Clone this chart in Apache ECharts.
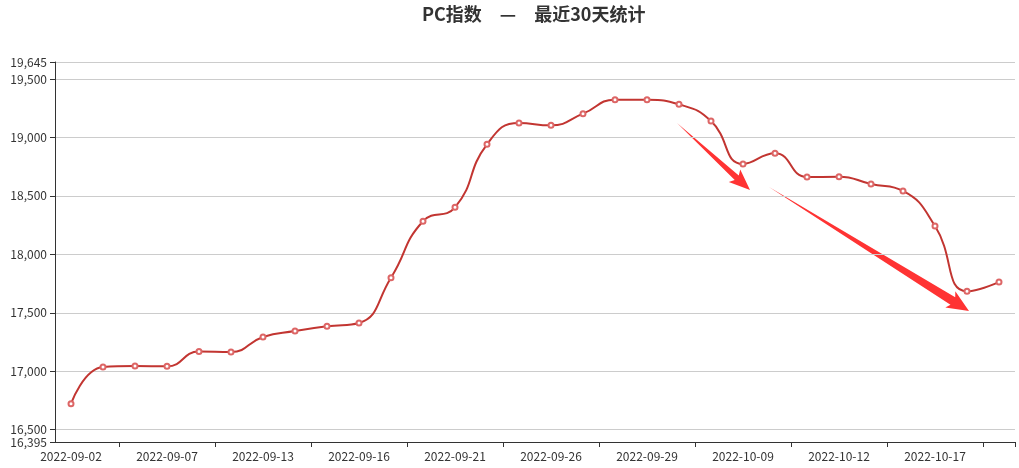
<!DOCTYPE html>
<html>
<head>
<meta charset="utf-8">
<script src="https://cdn.jsdelivr.net/npm/echarts@6/dist/echarts.min.js"></script>
<style>html,body{margin:0;padding:0;background:#fff;}#c{width:1019px;height:468px;}</style>
</head>
<body>
<div id="c"></div>
<script>
var titleText = 'PC指数\u3000—\u3000最近30天统计';
var dates = ['2022-09-02','2022-09-05','2022-09-06','2022-09-07','2022-09-08','2022-09-09',
  '2022-09-13','2022-09-14','2022-09-15','2022-09-16','2022-09-19','2022-09-20',
  '2022-09-21','2022-09-22','2022-09-23','2022-09-26','2022-09-27','2022-09-28',
  '2022-09-29','2022-09-30','2022-10-08','2022-10-09','2022-10-10','2022-10-11',
  '2022-10-12','2022-10-13','2022-10-14','2022-10-17','2022-10-18','2022-10-19'];
var pcIndex = [16723,17036,17045,17042,17168,17165,17293,17344,17384,17413,17800,18283,
  18402,18941,19123,19103,19203,19323,19322,19283,19140,18773,18864,18661,18664,18602,
  18542,18242,17684,17763];
var yMin = 16395;
var yMax = 19645;

function arrow(tail, tip, headLen, headHalf, shaftHalf) {
  var dx = tip[0] - tail[0], dy = tip[1] - tail[1];
  var L = Math.sqrt(dx * dx + dy * dy);
  var ux = dx / L, uy = dy / L, nx = -uy, ny = ux;
  var bx = tip[0] - ux * headLen, by = tip[1] - uy * headLen;
  return [
    [tail[0], tail[1]],
    [bx + nx * shaftHalf, by + ny * shaftHalf],
    [bx + nx * headHalf - ux * 3, by + ny * headHalf - uy * 3],
    [tip[0], tip[1]],
    [bx - nx * headHalf - ux * 3, by - ny * headHalf - uy * 3],
    [bx - nx * shaftHalf, by - ny * shaftHalf]
  ];
}

var chart = echarts.init(document.getElementById('c'));
var font = '"Microsoft YaHei","Noto Sans CJK SC","Noto Sans",sans-serif';
chart.setOption({
  animation: false,
  textStyle: {fontFamily: font},
  title: {
    text: titleText,
    left: 417,
    top: 0,
    textStyle: {fontSize: 18, fontWeight: 'bold', color: '#333', fontFamily: font}
  },
  grid: {left: 55, right: 4, top: 62, bottom: 26, containLabel: false},
  xAxis: {
    type: 'category',
    data: dates,
    boundaryGap: true,
    axisLine: {show: true, lineStyle: {color: '#333'}},
    axisTick: {show: true, alignWithLabel: false, interval: function (i) { return i % 3 === 2; }, length: 5, lineStyle: {color: '#333', width: 1}},
    axisLabel: {interval: 2, color: '#333', fontSize: 12, fontFamily: font}
  },
  yAxis: {
    type: 'value',
    min: yMin,
    max: yMax,
    axisLine: {show: true, lineStyle: {color: '#333'}},
    axisTick: {show: true, length: 5, lineStyle: {color: '#333'}},
    axisLabel: {color: '#333', fontSize: 12, fontFamily: font},
    splitLine: {lineStyle: {color: '#ccc'}}
  },
  series: [{
    type: 'line',
    data: pcIndex,
    smooth: true,
    symbol: 'emptyCircle',
    symbolSize: 5,
    lineStyle: {color: '#c23531', width: 2},
    itemStyle: {color: '#dd6666', borderWidth: 1}
  }],
  graphic: [
    {type: 'polygon', shape: {points: arrow([677, 123], [750, 190], 18, 8.5, 3)}, style: {fill: '#ff3333'}},
    {type: 'polygon', shape: {points: arrow([769, 187], [969, 311], 19, 9.5, 4.5)}, style: {fill: '#ff3333'}}
  ]
});
</script>
</body>
</html>
